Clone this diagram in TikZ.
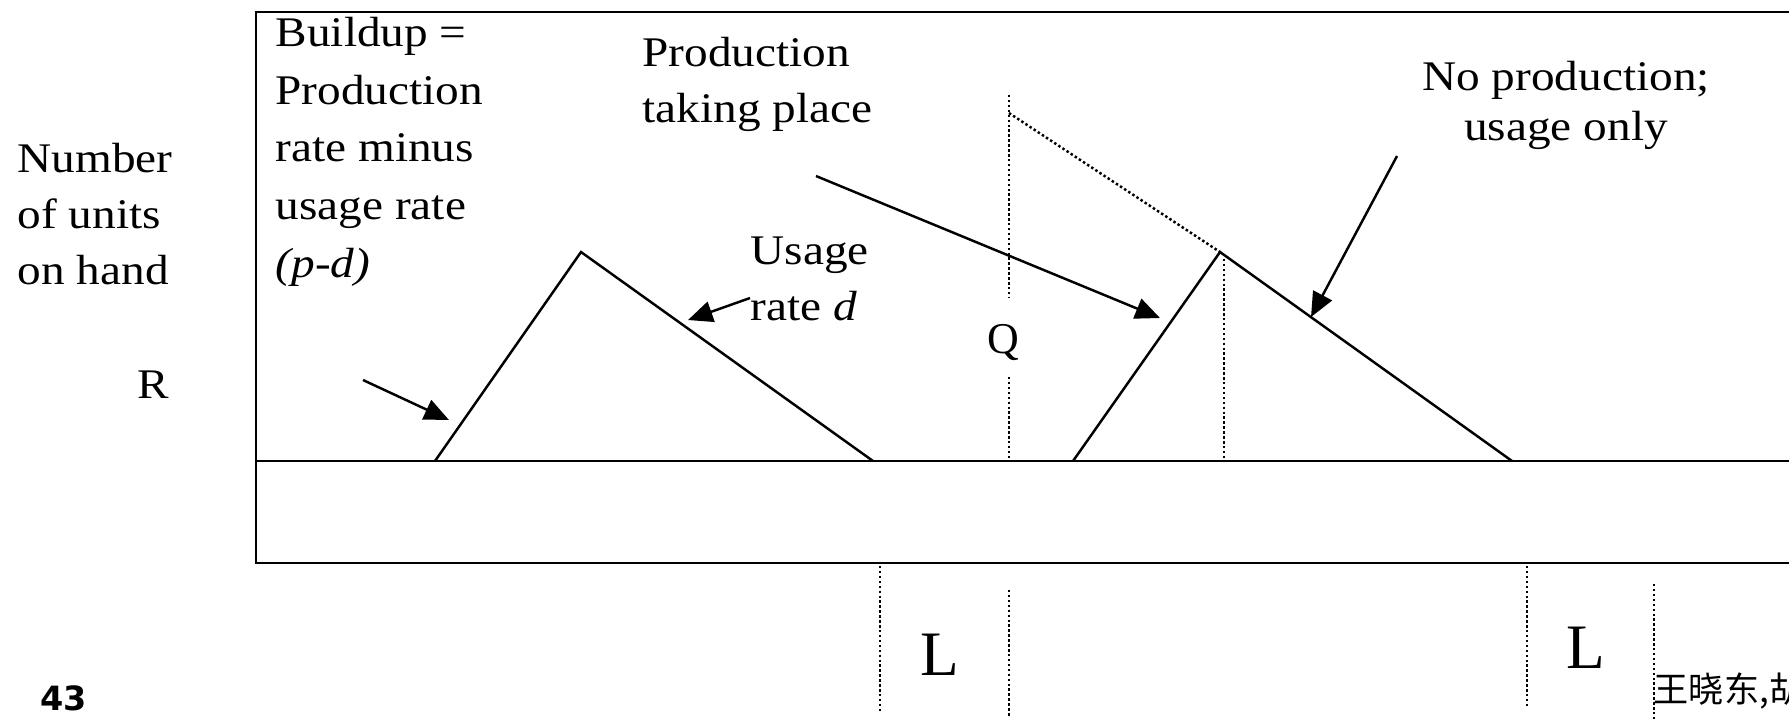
\documentclass[tikz,border=0pt]{standalone}
\usepackage{fontspec}
\setmainfont{Liberation Serif}[FakeStretch=1.12]
\newfontfamily\plainserif{Liberation Serif}
\newfontfamily\numfont{DejaVu Sans}
\newfontfamily\cjk{Noto Sans CJK SC}
\usetikzlibrary{arrows.meta}
\tikzset{
  txt/.style={inner sep=0pt, anchor=base west, align=left, font=\fontsize{12}{15.8}\selectfont},
  big/.style={inner sep=0pt, anchor=base, font=\plainserif\fontsize{18}{20}\selectfont},
  frame/.style={line width=0.8pt, draw=black},
  curve/.style={line width=0.7pt, line join=miter},
  dots/.style={line width=0.7pt, dash pattern=on 0.7pt off 0.7pt},
  ptr/.style={line width=0.7pt, -{Triangle[length=7pt,width=6pt]}},
}
\begin{document}
\begin{tikzpicture}[x=0.01cm, y=-0.01cm]
\useasboundingbox (0,0) rectangle (1789,720);
\clip (0,0) rectangle (1789,720);
% frame
\draw[frame] (256,12) rectangle (1810,563);
\draw[frame] (256,461) -- (1810,461);
% cycles
\coordinate (t1a) at (435,461); \coordinate (t1p) at (581,252); \coordinate (t1b) at (873,461);
\coordinate (t2a) at (1073,461); \coordinate (t2p) at (1220,252); \coordinate (t2b) at (1512,461);
\draw[curve] (t1a) -- (t1p) -- (t1b);
\draw[curve] (t2a) -- (t2p) -- (t2b);
% dotted guides
\coordinate (qtop) at (1009,95); \coordinate (qs) at (1009,113); \coordinate (qgap1) at (1009,297);
\coordinate (qgap2) at (1009,377); \coordinate (qbot) at (1009,461);
\draw[dots] (qtop) -- (qgap1);
\draw[dots] (qgap2) -- (qbot);
\draw[dots] (qs) -- (t2p);
\coordinate (pk) at (1224,254); \coordinate (pkb) at (1224,461);
\draw[dots] (pk) -- (pkb);
% lower dotted lines
\coordinate (l1a) at (880,566); \coordinate (l1b) at (880,713);
\coordinate (l2a) at (1009,590); \coordinate (l2b) at (1009,718);
\coordinate (l3a) at (1527,566); \coordinate (l3b) at (1527,707);
\coordinate (l4a) at (1654,584); \coordinate (l4b) at (1654,720);
\draw[dots] (l1a) -- (l1b);
\draw[dots] (l2a) -- (l2b);
\draw[dots] (l3a) -- (l3b);
\draw[dots] (l4a) -- (l4b);
% texts (base anchor = last line baseline)
\node[txt] (num) at (17,284) {Number\\of units\\on hand};
\node[txt, anchor=base] (R) at (153,398) {R};
\node[txt, font=\fontsize{12}{16.4}\selectfont] (build) at (275,277) {Buildup =\\Production\\rate minus\\usage rate\\\textit{(p-d)}};
\node[txt] (prod) at (642,122) {Production\\taking place};
\node[txt] (usage) at (750,320) {Usage\\rate \textit{d}};
\node[txt, anchor=base, align=center, font=\fontsize{12}{14.2}\selectfont] (noprod) at (1566,140) {No production;\\usage only};
\node[inner sep=0pt, anchor=base, font=\plainserif\fontsize{12.5}{15}\selectfont] (Q) at (1003,353) {Q};
\node[big] (L1) at (940,675) {L};
\node[big] (L2) at (1586,668) {L};
\node[inner sep=0pt, anchor=base west, font=\numfont\bfseries\fontsize{9.5}{11}\selectfont] (pg) at (40,710) {43};
\node[inner sep=0pt, anchor=base west, font=\cjk\fontsize{10}{12}\selectfont] (auth) at (1653,702) {王晓东,胡};
% pointers
\coordinate (a1s) at (363,380); \coordinate (a1e) at (449,420);
\coordinate (a2s) at (750,298); \coordinate (a2e) at (688,320);
\coordinate (a3s) at (816,176); \coordinate (a3e) at (1160,318);
\coordinate (a4s) at (1397,156); \coordinate (a4e) at (1311,317);
\draw[ptr] (a1s) -- (a1e);
\draw[ptr] (a2s) -- (a2e);
\draw[ptr] (a3s) -- (a3e);
\draw[ptr] (a4s) -- (a4e);
\end{tikzpicture}
\end{document}
